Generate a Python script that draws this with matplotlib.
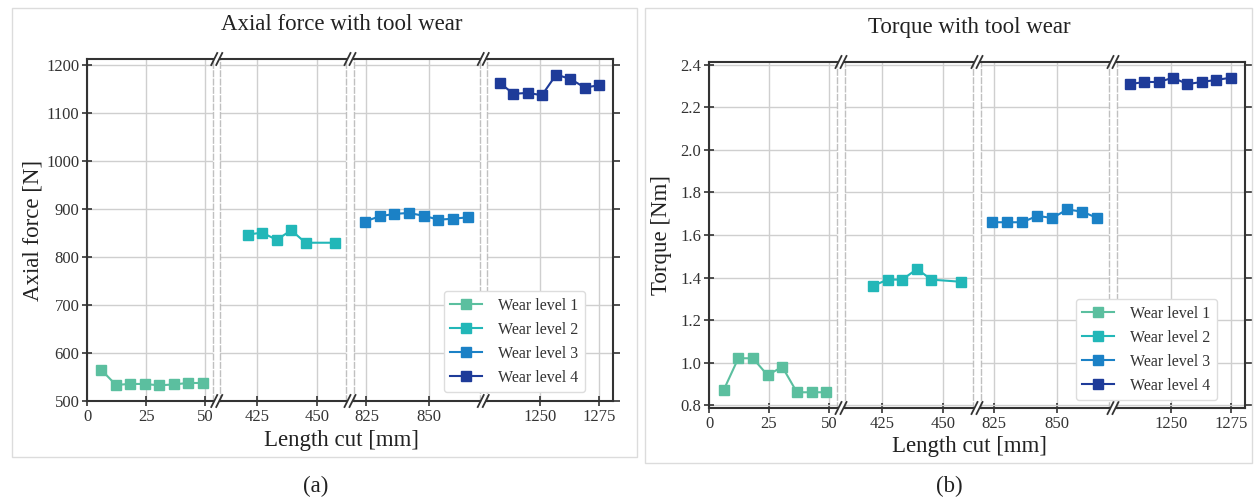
import matplotlib
matplotlib.use("Agg")
import matplotlib.pyplot as plt
from matplotlib.lines import Line2D
from matplotlib.patches import Rectangle

plt.rcParams['font.family'] = ['Liberation Serif', 'DejaVu Serif']

W, H = 1254, 498

# data
levels = ['Wear level 1', 'Wear level 2', 'Wear level 3', 'Wear level 4']
colors = ['#5bbf9f', '#22b7b8', '#1b81c6', '#1e3b99']

x_l1 = [6.1, 12.2, 18.3, 24.4, 30.5, 36.6, 42.7, 48.8]
x_l2 = [421.0, 427.1, 433.2, 439.3, 445.3, 457.5]
x_l3 = [824.3, 830.3, 836.2, 842.1, 848.1, 854.0, 860.0, 865.9]
x_l4 = [1233.2, 1239.0, 1245.1, 1250.9, 1256.9, 1262.8, 1268.9, 1274.9]

force_l1 = [564, 533, 535, 535, 532, 534, 537, 537]
force_l2 = [846, 850, 835, 855, 829, 829]
force_l3 = [873, 884, 889, 891, 885, 877, 879, 882]
force_l4 = [1162, 1139, 1141, 1136, 1179, 1170, 1152, 1157]

torque_l1 = [0.87, 1.02, 1.02, 0.94, 0.98, 0.86, 0.86, 0.86]
torque_l2 = [1.36, 1.39, 1.39, 1.44, 1.39, 1.38]
torque_l3 = [1.66, 1.66, 1.66, 1.69, 1.68, 1.72, 1.71, 1.68]
torque_l4 = [2.31, 2.32, 2.32, 2.34, 2.31, 2.32, 2.33, 2.34]

xlims = [(0, 53.3), (409.5, 462.5), (819.8, 870.6), (1227.8, 1280.7)]
xticks = [[0, 25, 50], [425, 450], [825, 850], [1250, 1275]]

fig = plt.figure(figsize=(W / 100, H / 100), dpi=100)


def rect(x0, y0, x1, y1):
    return [x0 / W, 1 - y1 / H, (x1 - x0) / W, (y1 - y0) / H]


def fx(x):
    return x / W


def fy(y):
    return 1 - y / H


def broken_panel(left, right, top, bottom, gap, ys, ylim, yticks, yfmt,
                 ylabel, title, tag, leg_box, frame, ylab_x, title_y, xlab_y, tag_x):
    # light frame round the panel
    fig.add_artist(Rectangle((fx(frame[0]), fy(frame[3])), fx(frame[2] - frame[0]),
                             (frame[3] - frame[1]) / H, transform=fig.transFigure,
                             fill=False, edgecolor='#dcdcdc', lw=1))
    segw = (right - left - 3 * gap) / 4
    xs = [x_l1, x_l2, x_l3, x_l4]
    axes = []
    for i in range(4):
        x0 = left + i * (segw + gap)
        ax = fig.add_axes(rect(x0, top, x0 + segw, bottom))
        ax.plot(xs[i], ys[i], '-s', color=colors[i], ms=6.5, lw=1.5,
                mec=colors[i], label=levels[i])
        ax.set_xlim(xlims[i])
        ax.set_ylim(ylim)
        ax.set_xticks(xticks[i])
        ax.set_yticks(yticks)
        ax.grid(True, color='#cfcfcf', lw=1)
        ax.set_axisbelow(True)
        for s in ['top', 'bottom']:
            ax.spines[s].set_color('#333333')
            ax.spines[s].set_linewidth(1.5)
        ax.tick_params(axis='x', direction='inout', length=7, width=1.2,
                       labelsize=12, color='#333333', labelcolor='#333333', pad=2)
        if i == 0:
            ax.spines['left'].set_color('#333333')
            ax.spines['left'].set_linewidth(1.5)
            ax.tick_params(axis='y', direction='inout', length=7, width=1.2,
                           labelsize=12, color='#333333', labelcolor='#333333', pad=2)
            ax.yaxis.set_major_formatter(yfmt)
        else:
            ax.spines['left'].set_linestyle((0, (4, 2)))
            ax.spines['left'].set_color('#c0c0c0')
            ax.spines['left'].set_linewidth(1)
            ax.tick_params(axis='y', left=False, labelleft=False)
        if i == 3:
            ax.spines['right'].set_color('#333333')
            ax.spines['right'].set_linewidth(1.5)
            ax.tick_params(axis='y', right=True, direction='out', length=5,
                           width=1.2, color='#333333')
        else:
            ax.spines['right'].set_linestyle((0, (4, 2)))
            ax.spines['right'].set_color('#c0c0c0')
            ax.spines['right'].set_linewidth(1)
        axes.append(ax)

    # break marks on top and bottom
    for i in range(3):
        xc = left + (i + 1) * segw + i * gap + gap / 2
        for yc in (top, bottom):
            for dx in (-2.5, 2.5):
                fig.add_artist(Line2D([fx(xc + dx - 3), fx(xc + dx + 3)],
                                      [fy(yc + 6), fy(yc - 6)],
                                      transform=fig.transFigure,
                                      color='#333333', lw=1.3))

    handles = [Line2D([], [], color=c, marker='s', ms=6.5, lw=1.5) for c in colors]
    fig.legend(handles, levels, loc='lower right',
               bbox_to_anchor=(fx(leg_box[0]), fy(leg_box[1])),
               fontsize=11.5, frameon=True, framealpha=1, edgecolor='#dddddd',
               handlelength=2.0, borderpad=0.4, labelspacing=0.5,
               handletextpad=1.0, borderaxespad=0, fancybox=True,
               labelcolor='#333333')

    fig.text(fx(ylab_x), fy((top + bottom) / 2), ylabel, rotation=90,
             ha='center', va='center', fontsize=16.5, color='#222222')
    fig.text(fx((left + right) / 2 - 8), fy(title_y), title, ha='center',
             va='center', fontsize=16.5, color='#222222')
    fig.text(fx((left + right) / 2 - 8), fy(xlab_y), 'Length cut [mm]',
             ha='center', va='center', fontsize=16.5, color='#222222')
    fig.text(fx(tag_x), fy(486), tag, ha='center', va='center', fontsize=16.5,
             color='#222222')
    return axes


broken_panel(87, 613, 59, 401, 7,
             [force_l1, force_l2, force_l3, force_l4], (499.5, 1211.5),
             [500, 600, 700, 800, 900, 1000, 1100, 1200], '{x:.0f}',
             'Axial force [N]', 'Axial force with tool wear', '(a)',
             (585, 392), (12, 8, 637, 457), 33, 25, 440, 316)

broken_panel(709, 1245, 62, 408, 8,
             [torque_l1, torque_l2, torque_l3, torque_l4], (0.786, 2.414),
             [0.8, 1.0, 1.2, 1.4, 1.6, 1.8, 2.0, 2.2, 2.4], '{x:.1f}',
             'Torque [Nm]', 'Torque with tool wear', '(b)',
             (1217, 400), (645, 8, 1252, 463), 661, 27, 446, 949)

fig.savefig('out.png', dpi=100)
